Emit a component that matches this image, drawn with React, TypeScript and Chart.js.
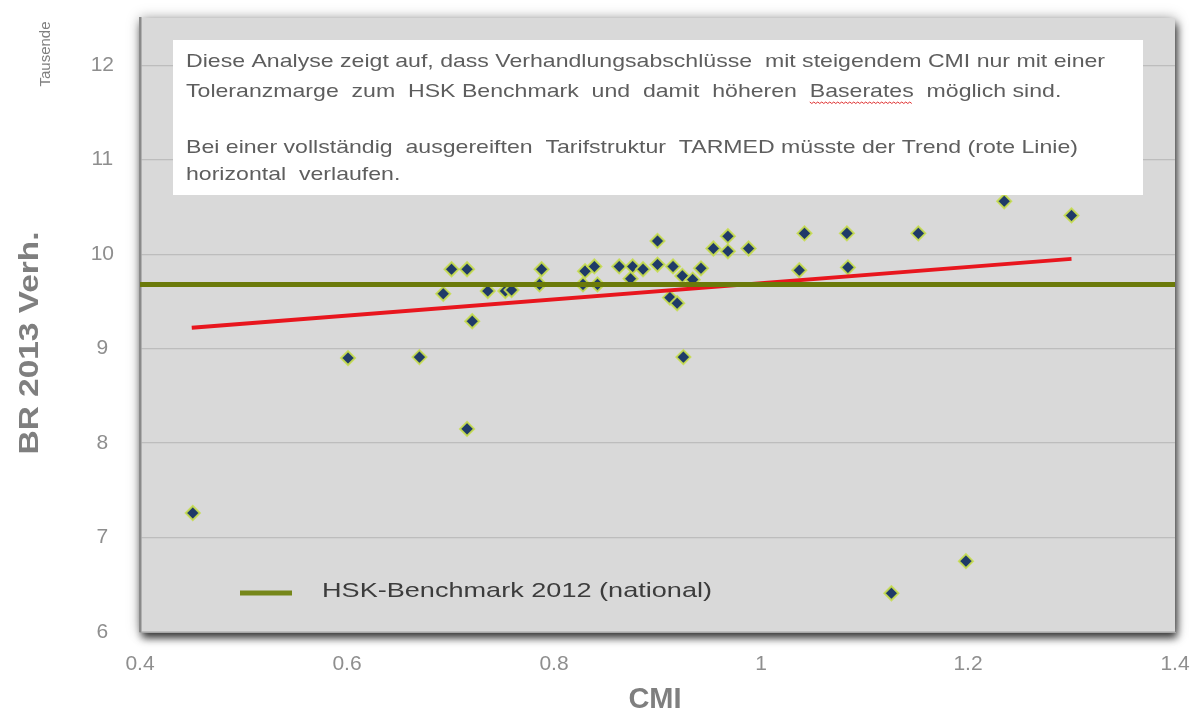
import React, { useEffect, useRef } from "react";
import { Chart, registerables } from "chart.js";
Chart.register(...registerables);

// ---- Data ----
const cmiValues = [
  0.451, 0.601, 0.670, 0.693, 0.701, 0.716, 0.721, 0.716, 0.736, 0.753,
  0.759, 0.788, 0.786, 0.830, 0.839, 0.828, 0.842, 0.863, 0.876, 0.874,
  0.886, 0.900, 0.900, 0.915, 0.924, 0.934, 0.912, 0.919, 0.925, 0.942,
  0.954, 0.968, 0.968, 0.988, 1.037, 1.042, 1.083, 1.084, 1.152, 1.235,
  1.300, 1.198, 1.126,
];
const brValues = [
  7.26, 8.90, 8.91, 9.58, 9.84, 9.84, 9.29, 8.15, 9.61, 9.61,
  9.62, 9.84, 9.68, 9.82, 9.87, 9.68, 9.68, 9.87, 9.87, 9.74,
  9.84, 10.14, 9.89, 9.87, 9.77, 9.73, 9.54, 9.48, 8.91, 9.85,
  10.06, 10.19, 10.03, 10.06, 9.83, 10.22, 10.22, 9.86, 10.22, 10.56,
  10.41, 6.75, 6.41,
];
const benchmarkValue = 9.68;
const benchmarkRange = [0.4, 1.4];
const trendX = [0.45, 1.3];
const trendY = [9.22, 9.95];
const xTicks = [0.4, 0.6, 0.8, 1, 1.2, 1.4];
const yTicks = [6, 7, 8, 9, 10, 11, 12];
const xTitle = "CMI";
const yTitle = "BR 2013 Verh.";
const yUnit = "Tausende";
const legendLabel = "HSK-Benchmark 2012 (national)";
const noteLines = [
  "Diese Analyse zeigt auf, dass Verhandlungsabschlüsse  mit steigendem CMI nur mit einer",
  "Toleranzmarge  zum  HSK Benchmark  und  damit  höheren  Baserates  möglich sind.",
  "",
  "Bei einer vollständig  ausgereiften  Tarifstruktur  TARMED müsste der Trend (rote Linie)",
  "horizontal  verlaufen.",
];
const underlinedWord = "Baserates";

const FONT = "'Liberation Sans', Arial, sans-serif";

function fitText(ctx: CanvasRenderingContext2D, text: string, x: number, y: number, sx: number) {
  ctx.save();
  ctx.translate(x, y);
  ctx.scale(sx, 1);
  ctx.fillText(text, 0, 0);
  ctx.restore();
}

const backgroundPlugin = {
  id: "plotBackground",
  beforeDraw(chart: any) {
    const { ctx, chartArea: a } = chart;
    ctx.save();
    ctx.fillStyle = "#ffffff";
    ctx.fillRect(0, 0, chart.width, chart.height);
    ctx.fillStyle = "#d9d9d9";
    ctx.shadowColor = "rgba(0,0,0,0.35)";
    ctx.shadowBlur = 12;
    ctx.fillRect(a.left, a.top, a.right - a.left, a.bottom - a.top);
    ctx.shadowColor = "rgba(0,0,0,0.75)";
    ctx.shadowBlur = 8;
    ctx.shadowOffsetX = 2;
    ctx.shadowOffsetY = 6;
    ctx.fillRect(a.left, a.top, a.right - a.left, a.bottom - a.top);
    ctx.restore();
  },
};

const annotationPlugin = {
  id: "annotations",
  afterDraw(chart: any) {
    const { ctx } = chart;
    ctx.save();
    // Note box
    ctx.fillStyle = "#ffffff";
    ctx.fillRect(173, 40, 970, 155);
    ctx.fillStyle = "#5e5e5e";
    ctx.font = `19px ${FONT}`;
    ctx.textBaseline = "middle";
    ctx.textAlign = "left";
    const s = 919 / ctx.measureText(noteLines[0]).width;
    const lineYs = [62, 92, 120, 148, 175];
    noteLines.forEach((t, i) => {
      if (t) fitText(ctx, t, 186, lineYs[i], s);
    });
    // spell-check wavy underline
    const l2 = noteLines[1];
    const idx = l2.indexOf(underlinedWord);
    const ux0 = 186 + ctx.measureText(l2.slice(0, idx)).width * s;
    const ux1 = ux0 + ctx.measureText(underlinedWord).width * s;
    ctx.strokeStyle = "#e03030";
    ctx.lineWidth = 1;
    ctx.beginPath();
    for (let x = ux0, k = 0; x <= ux1; x += 2, k++) {
      const y = 102 + (k % 2 === 0 ? 0 : 1.5);
      if (k === 0) ctx.moveTo(x, y);
      else ctx.lineTo(x, y);
    }
    ctx.stroke();

    // Legend
    ctx.strokeStyle = "#76871a";
    ctx.lineWidth = 5;
    ctx.beginPath();
    ctx.moveTo(240, 593);
    ctx.lineTo(292, 593);
    ctx.stroke();
    ctx.fillStyle = "#3c3c3c";
    ctx.font = `21px ${FONT}`;
    const ls = 390 / ctx.measureText(legendLabel).width;
    fitText(ctx, legendLabel, 322, 591, ls);

    // Axis titles
    ctx.fillStyle = "#7f7f7f";
    ctx.font = `bold 28px ${FONT}`;
    ctx.textAlign = "center";
    ctx.save();
    ctx.translate(30, 343);
    ctx.rotate(-Math.PI / 2);
    const ts = 223 / ctx.measureText(yTitle).width;
    ctx.scale(ts, 1);
    ctx.fillText(yTitle, 0, 0);
    ctx.restore();

    ctx.font = `15px ${FONT}`;
    ctx.fillStyle = "#808080";
    ctx.save();
    ctx.translate(46, 54);
    ctx.rotate(-Math.PI / 2);
    ctx.fillText(yUnit, 0, 0);
    ctx.restore();

    ctx.font = `bold 29px ${FONT}`;
    ctx.fillStyle = "#7f7f7f";
    ctx.fillText(xTitle, 655, 700);
    ctx.restore();
  },
};

function zeroPadding(s: any) {
  s.paddingTop = 0;
  s.paddingBottom = 0;
  s.paddingLeft = 0;
  s.paddingRight = 0;
}

export default function App() {
  const ref = useRef<HTMLCanvasElement | null>(null);
  useEffect(() => {
    if (!ref.current) return;
    const points = cmiValues.map((x, i) => ({ x, y: brValues[i] }));
    const chart = new Chart(ref.current, {
      type: "scatter",
      data: {
        datasets: [
          {
            label: legendLabel,
            data: benchmarkRange.map((x) => ({ x, y: benchmarkValue })),
            showLine: true,
            borderColor: "#6b7a0a",
            borderWidth: 5,
            pointRadius: 0,
            order: 0,
          },
          {
            label: "Trend",
            data: trendX.map((x, i) => ({ x, y: trendY[i] })),
            showLine: true,
            borderColor: "#e8161e",
            borderWidth: 4,
            pointRadius: 0,
            order: 1,
          },
          {
            label: "BR 2013",
            data: points,
            pointStyle: "rectRot",
            pointRadius: 7,
            backgroundColor: "#1f3a68",
            borderColor: "rgba(200,222,80,0.9)",
            borderWidth: 2,
            order: 2,
          },
        ],
      },
      options: {
        responsive: false,
        animation: false,
        events: [],
        layout: { padding: { top: 18, right: 19, left: 0, bottom: 0 } },
        plugins: { legend: { display: false }, tooltip: { enabled: false } },
        scales: {
          x: {
            type: "linear",
            min: 0.4,
            max: 1.4,
            afterFit: (s: any) => { s.height = 86; zeroPadding(s); },
            afterBuildTicks: (s: any) => { s.ticks = xTicks.map((v) => ({ value: v })); },
            grid: { display: false, drawTicks: false },
            border: { display: true, color: "#a8a8a8", width: 1 },
            ticks: {
              padding: 20,
              color: "#8e8e8e",
              font: { family: FONT, size: 21 },
              callback: (v: any) => String(v),
              maxRotation: 0,
            },
          },
          y: {
            type: "linear",
            min: 6,
            max: 12.5,
            afterFit: (s: any) => { s.width = 140; zeroPadding(s); },
            afterBuildTicks: (s: any) => { s.ticks = yTicks.map((v) => ({ value: v })); },
            grid: { color: "#bdbdbd", lineWidth: 1.2, drawTicks: false },
            border: { display: true, color: "#8a8a8a", width: 2.5 },
            ticks: {
              padding: 26,
              crossAlign: "center",
              color: "#8e8e8e",
              font: { family: FONT, size: 21 },
              callback: (v: any) => String(v),
            },
          },
        },
      },
      plugins: [backgroundPlugin, annotationPlugin],
    } as any);
    return () => chart.destroy();
  }, []);
  return (
    <div style={{ position: "fixed", left: 0, top: 0, width: 1194, height: 718, background: "#fff" }}>
      <canvas ref={ref} width={1194} height={718} style={{ display: "block" }} />
    </div>
  );
}
